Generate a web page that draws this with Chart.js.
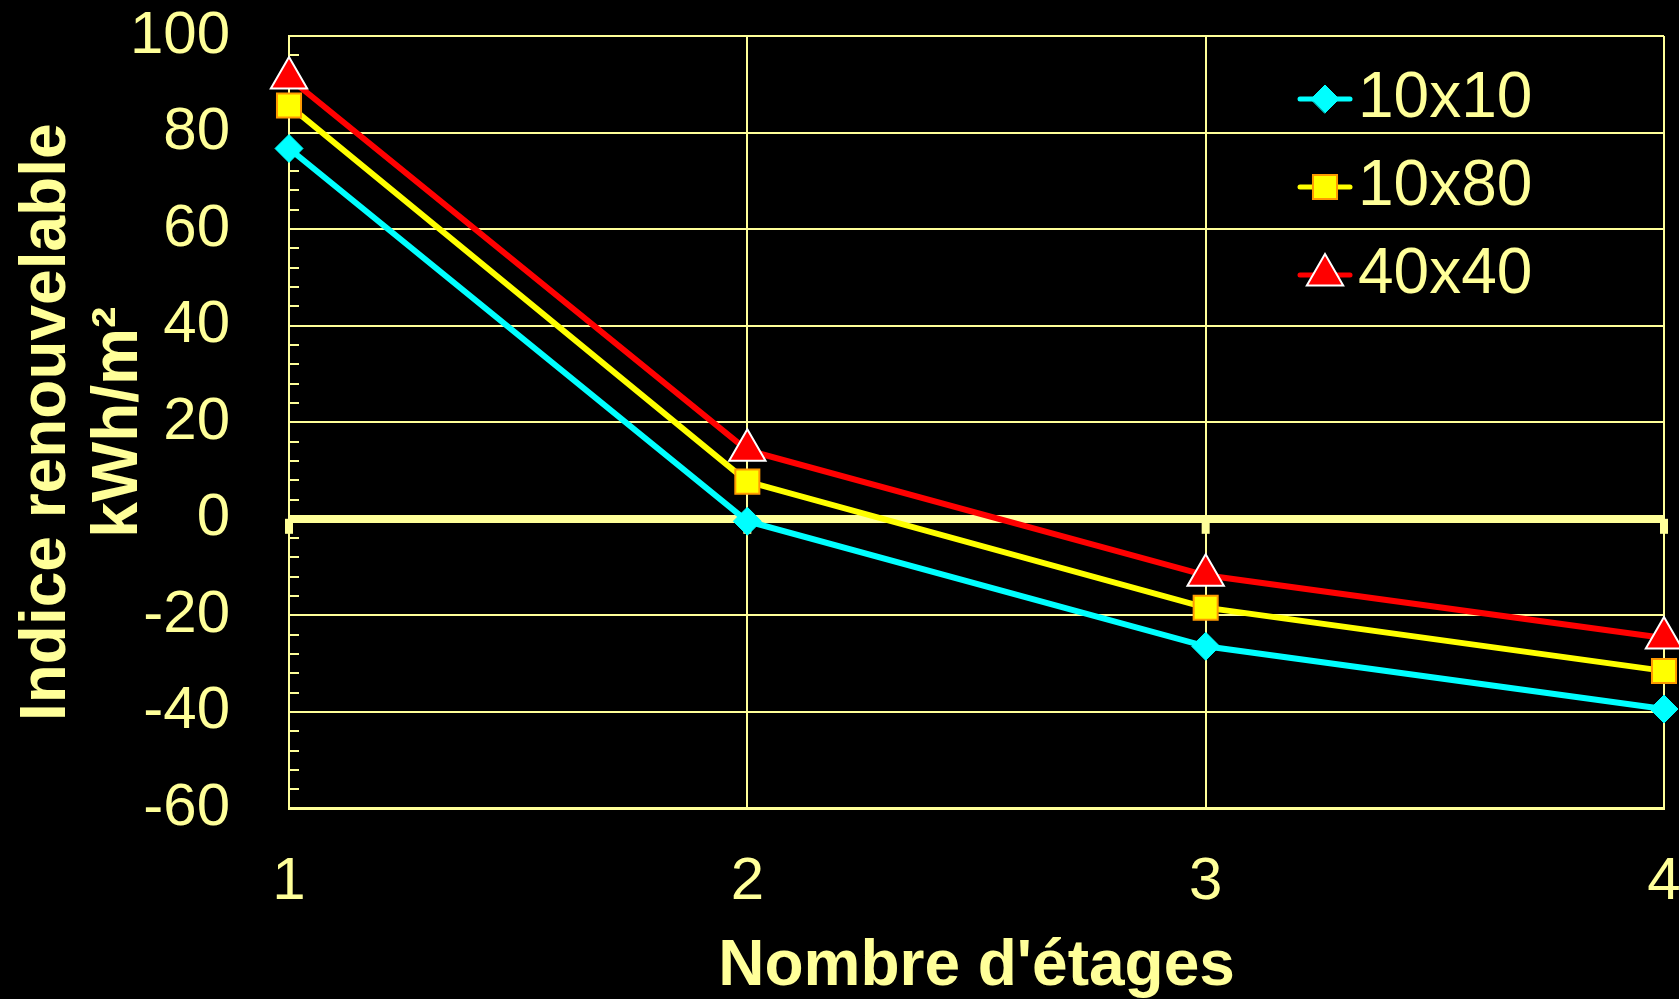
<!DOCTYPE html>
<html>
<head>
<meta charset="utf-8">
<script src="https://cdn.jsdelivr.net/npm/chart.js"></script>
<style>
	html, body { margin: 0; padding: 0; background: #000; }
</style>
</head>
<body>
<canvas id="myCanvasEtages" width="1679" height="999"></canvas>
<script>
// valeurs
var etages = ['1', '2', '3', '4'];
var serie10x10 = [76.7, -0.5, -26.4, -39.4];
var serie10x80 = [85.6, 7.7, -18.4, -31.5];
var serie40x40 = [91.3, 14.2, -11.7, -24.7];
var yMin = -60;
var yMax = 100;
var yStep = 20;
var yMinorStep = 4;

var pale = '#FFFF99';
var fontName = "'Liberation Sans', Arial, sans-serif";

var decorPlugin = {
	id: 'decor',
	beforeDatasetsDraw: function(chart){
		var ctx = chart.ctx;
		var x = chart.scales.x;
		var y = chart.scales.y;
		var area = chart.chartArea;
		ctx.save();
		// petites graduations intérieures
		ctx.strokeStyle = pale;
		ctx.lineWidth = 2;
		for(var v = yMin + yMinorStep; v < yMax; v += yMinorStep){
			if(v % yStep === 0) continue;
			var py = Math.round(y.getPixelForValue(v));
			ctx.beginPath();
			ctx.moveTo(area.left, py);
			ctx.lineTo(area.left + 10, py);
			ctx.stroke();
		}
		// graduations sous l'axe zéro
		var y0 = y.getPixelForValue(0);
		ctx.fillStyle = pale;
		for(var i = 0; i < etages.length; i++){
			var px = x.getPixelForValue(i);
			ctx.fillRect(px - 4, y0, 8, 15);
		}
		ctx.restore();
	},
	afterDraw: function(chart){
		var ctx = chart.ctx;
		var rows = [99, 187, 275];
		ctx.save();
		chart.data.datasets.forEach(function(ds, i){
			var ry = rows[i];
			ctx.strokeStyle = ds.borderColor;
			ctx.lineWidth = 5;
			ctx.lineCap = 'round';
			ctx.beginPath();
			ctx.moveTo(1300, ry);
			ctx.lineTo(1350, ry);
			ctx.stroke();
			ctx.fillStyle = ds.pointBackgroundColor;
			ctx.strokeStyle = ds.pointBorderColor;
			ctx.lineWidth = ds.pointBorderWidth;
			Chart.helpers.drawPoint(ctx, {
				pointStyle: ds.pointStyle,
				radius: ds.pointRadius,
				rotation: 0,
				borderWidth: ds.pointBorderWidth
			}, 1325, ry);
			ctx.fillStyle = pale;
			ctx.font = '64px ' + fontName;
			ctx.textBaseline = 'middle';
			ctx.textAlign = 'left';
			ctx.fillText(ds.label, 1358, ry);
		});
		ctx.restore();
	}
};

var chartdata = {
	labels: etages,
	datasets: [
		{
			label: '10x10',
			data: serie10x10,
			borderColor: '#00FFFF',
			borderWidth: 6,
			pointStyle: 'rectRot',
			pointRadius: 14,
			pointBackgroundColor: '#00FFFF',
			pointBorderColor: '#00FFFF',
			pointBorderWidth: 1,
			order: 3,
			clip: false
		},
		{
			label: '10x80',
			data: serie10x80,
			borderColor: '#FFFF00',
			borderWidth: 6,
			pointStyle: 'rect',
			pointRadius: 17,
			pointBackgroundColor: '#FFFF00',
			pointBorderColor: '#FF9900',
			pointBorderWidth: 2,
			order: 2,
			clip: false
		},
		{
			label: '40x40',
			data: serie40x40,
			borderColor: '#FF0000',
			borderWidth: 6,
			pointStyle: 'triangle',
			pointRadius: 21,
			pointBackgroundColor: '#FF0000',
			pointBorderColor: '#FFFFFF',
			pointBorderWidth: 2,
			order: 1,
			clip: false
		}
	]
};

var ctx = document.getElementById('myCanvasEtages');

var lineGraph = new Chart(ctx, {
	type: 'line',
	data: chartdata,
	plugins: [decorPlugin],
	options: {
		responsive: false,
		animation: false,
		layout: { autoPadding: false, padding: { top: 36, right: 0, bottom: 0, left: 0 } },
		elements: { line: { tension: 0 } },
		plugins: {
			legend: { display: false },
			tooltip: { enabled: false }
		},
		scales: {
			x: {
				offset: false,
				grid: { color: pale, lineWidth: 2, drawTicks: false },
				border: { display: true, color: pale, width: 3 },
				ticks: {
					color: pale,
					padding: 38,
					maxRotation: 0,
					font: { family: fontName, size: 60 }
				},
				title: {
					display: true,
					text: "Nombre d'étages",
					color: pale,
					padding: { top: 0, bottom: 0 },
					font: { family: fontName, size: 64, weight: 'bold', lineHeight: 1.0 }
				},
				afterFit: function(scale){
					scale.height = 190.5;
					scale.paddingRight = 15;
					scale.paddingLeft = 0;
				}
			},
			y: {
				min: yMin,
				max: yMax,
				grid: {
					color: pale,
					drawTicks: false,
					lineWidth: function(c){ return c.tick && c.tick.value === 0 ? 8 : 2; }
				},
				border: { display: true, color: pale, width: 2 },
				ticks: {
					stepSize: yStep,
					color: pale,
					padding: 59,
					font: { family: fontName, size: 60 }
				},
				title: {
					display: true,
					text: ['Indice renouvelable', 'kWh/m²'],
					color: pale,
					padding: { top: 11, bottom: 0 },
					font: { family: fontName, size: 64, weight: 'bold', lineHeight: 1.13 }
				},
				afterFit: function(scale){
					scale.width = 289;
					scale.paddingTop = 0;
					scale.paddingBottom = 0;
				}
			}
		}
	}
});
</script>
</body>
</html>
